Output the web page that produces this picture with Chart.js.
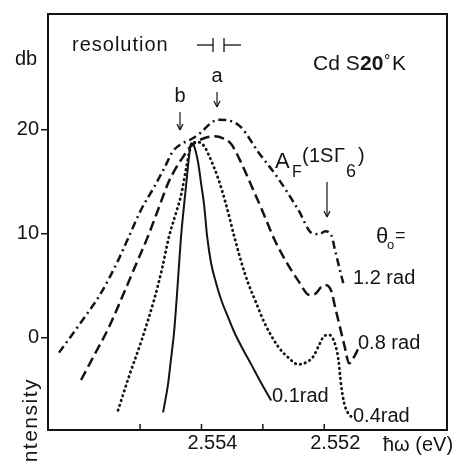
<!DOCTYPE html>
<html>
<head>
<meta charset="utf-8">
<script src="https://cdn.jsdelivr.net/npm/chart.js@4.4.1/dist/chart.umd.min.js"></script>
<style>
  html, body { margin: 0; padding: 0; background: #fff; }
  #wrap { width: 462px; height: 465px; }
</style>
</head>
<body>
<div id="wrap"><canvas id="spectrum" width="462" height="465"></canvas></div>
<script>
// photon energy (eV) and intensity (dB), theta0 = 1.2 rad
const energy12 = [2.556321, 2.555962, 2.555636, 2.555359, 2.555179, 2.554984, 2.554772, 2.554609,
  2.554462, 2.554332, 2.554169, 2.554006, 2.553875, 2.553728, 2.553549, 2.553353, 2.553076,
  2.552750, 2.552424, 2.552196, 2.552082, 2.551984, 2.551886, 2.551821, 2.551755, 2.551690];
const db12 = [-1.46, 1.46, 4.28, 7.39, 9.74, 12.28, 14.45, 16.24, 17.93, 18.59, 19.06, 19.72,
  20.47, 20.94, 20.85, 20.19, 17.84, 15.29, 12.28, 10.02, 9.93, 10.21, 9.84, 8.33, 6.73, 5.22];

// theta0 = 0.8 rad
const energy08 = [2.555962, 2.555750, 2.555522, 2.555359, 2.555196, 2.555033, 2.554870, 2.554707,
  2.554544, 2.554413, 2.554299, 2.554201, 2.554087, 2.553957, 2.553794, 2.553647, 2.553516,
  2.553353, 2.553190, 2.552995, 2.552815, 2.552620, 2.552408, 2.552245, 2.552147, 2.552049,
  2.551984, 2.551886, 2.551821, 2.551755, 2.551674, 2.551592, 2.551511, 2.551446];
const db08 = [-4.09, -1.74, 0.80, 2.96, 5.22, 7.48, 9.74, 12.28, 14.82, 16.33, 17.36, 18.21,
  18.78, 19.15, 19.34, 19.15, 18.59, 16.80, 14.64, 12.00, 9.46, 7.29, 5.32, 4.09, 4.19, 4.85,
  5.04, 4.47, 2.87, 1.27, -0.71, -2.49, -1.84, -1.08];

// theta0 = 0.4 rad
const energy04 = [2.555359, 2.555179, 2.554984, 2.554772, 2.554641, 2.554527, 2.554413, 2.554332,
  2.554250, 2.554201, 2.554152, 2.554054, 2.553957, 2.553875, 2.553728, 2.553598, 2.553467,
  2.553353, 2.553239, 2.553109, 2.552978, 2.552750, 2.552587, 2.552424, 2.552293, 2.552179,
  2.552082, 2.552000, 2.551918, 2.551837, 2.551772, 2.551723, 2.551674, 2.551609, 2.551527];
const db04 = [-7.01, -3.72, -0.42, 3.62, 6.64, 9.74, 12.00, 13.69, 16.24, 17.74, 18.68, 18.78,
  18.40, 17.46, 15.29, 12.75, 9.74, 7.29, 5.22, 3.34, 1.46, -0.89, -1.93, -2.59, -2.40, -1.84,
  -0.71, 0.14, 0.24, -0.42, -2.02, -4.66, -6.35, -7.29, -7.76];

// theta0 = 0.1 rad
const energy01 = [2.554625, 2.554544, 2.554495, 2.554446, 2.554397, 2.554364, 2.554332, 2.554283,
  2.554234, 2.554201, 2.554169, 2.554120, 2.554054, 2.554006, 2.553957, 2.553908, 2.553842,
  2.553761, 2.553679, 2.553565, 2.553467, 2.553321, 2.553190, 2.553027, 2.552864];
const db01 = [-7.20, -4.47, -2.02, 0.52, 4.28, 7.11, 9.74, 12.75, 15.58, 17.46, 18.68, 18.40,
  16.80, 14.82, 12.75, 9.74, 7.11, 5.22, 3.62, 1.93, 0.52, -1.18, -2.59, -4.38, -6.07];

const seriesNames = ["1.2 rad", "0.8 rad", "0.4rad", "0.1rad"];
const yTickValues = [0, 10, 20];
const xTickValues = [2.552, 2.553, 2.554, 2.555];
const xTickLabels = ["2.552", "", "2.554", ""];

const ink = "#141414";
const fontFamily = "'Liberation Sans', Arial, sans-serif";

function points(xs, ys) {
  return xs.map((x, i) => ({ x: x, y: ys[i] }));
}

function series(name, xs, ys, dash, width, cap) {
  return {
    label: name,
    data: points(xs, ys),
    borderColor: ink,
    borderWidth: width,
    borderDash: dash,
    borderCapStyle: cap || "butt",
    pointRadius: 0,
    fill: false,
    cubicInterpolationMode: "monotone"
  };
}

// texts, arrows and frame drawn on top of the plot
const annotations = {
  id: "annotations",
  afterDraw(chart) {
    const ctx = chart.ctx;
    const area = chart.chartArea;
    const xScale = chart.scales.x;

    function text(str, x, y, size, align, weight) {
      ctx.font = (weight || "normal") + " " + size + "px " + fontFamily;
      ctx.textAlign = align || "left";
      ctx.textBaseline = "alphabetic";
      ctx.fillText(str, x, y);
    }
    function line(x1, y1, x2, y2) {
      ctx.beginPath();
      ctx.moveTo(x1, y1);
      ctx.lineTo(x2, y2);
      ctx.stroke();
    }
    function arrow(x, y1, y2) {
      line(x, y1, x, y2);
      line(x - 3, y2 - 6, x, y2);
      line(x + 3, y2 - 6, x, y2);
    }

    ctx.save();
    ctx.fillStyle = ink;
    ctx.strokeStyle = ink;

    // frame
    ctx.lineWidth = 2;
    ctx.strokeRect(area.left, area.top, area.right - area.left, area.bottom - area.top);

    // inward ticks on the energy axis
    ctx.lineWidth = 1.5;
    xScale.ticks.forEach(t => {
      const px = xScale.getPixelForValue(t.value);
      line(px, area.bottom, px, area.bottom - 6);
    });

    // axis names
    text("db", 26, 65, 20, "center");
    text("\u0127\u03c9 (eV)", 383, 451, 20);
    ctx.save();
    ctx.translate(37, 378);
    ctx.rotate(-Math.PI / 2);
    ctx.letterSpacing = "1.5px";
    text("Intensity", 0, 0, 21, "right");
    ctx.restore();

    // resolution mark
    ctx.save();
    ctx.letterSpacing = "1px";
    text("resolution", 72, 51, 20);
    ctx.restore();
    ctx.lineWidth = 1.3;
    line(197, 45, 213, 45);
    line(213, 38, 213, 52);
    line(224, 38, 224, 52);
    line(224, 45, 241, 45);

    // sample
    text("Cd S", 313, 70, 21);
    text("20", 360, 70, 21, "left", "bold");
    text("\u00b0", 384, 66, 16);
    text("K", 392, 70, 21);

    // peak markers
    ctx.lineWidth = 1.2;
    text("a", 217, 82, 20, "center");
    arrow(217, 92, 107);
    text("b", 180, 102, 20, "center");
    arrow(180, 112, 130);

    // exciton line
    text("A", 275, 168, 22);
    text("F", 292, 177, 16);
    text("(", 302, 162, 20);
    text("1", 309, 162, 20);
    text("S", 320, 162, 20);
    text("\u0393", 334, 162, 20);
    text("6", 346, 177, 18);
    text(")", 358, 162, 20);
    arrow(327, 182, 217);

    // theta0 =
    text("\u03b8", 376, 243, 22);
    text("o", 387, 249, 13);
    text("=", 395, 241, 18);

    // curve labels
    text(seriesNames[0], 353, 284, 20);
    text(seriesNames[1], 358, 349, 20);
    text(seriesNames[2], 353, 422, 20);
    text(seriesNames[3], 272, 402, 20);

    ctx.restore();
  }
};

new Chart(document.getElementById("spectrum"), {
  type: "line",
  data: {
    datasets: [
      series(seriesNames[0], energy12, db12, [8, 4, 2, 4], 2.5),
      series(seriesNames[1], energy08, db08, [10, 5], 2.5),
      series(seriesNames[2], energy04, db04, [0.5, 4.5], 2.8, "round"),
      series(seriesNames[3], energy01, db01, [], 2)
    ]
  },
  options: {
    responsive: false,
    animation: false,
    layout: { padding: { top: 5, right: 15, left: 0, bottom: 0 } },
    plugins: {
      legend: { display: false },
      tooltip: { enabled: false }
    },
    scales: {
      x: {
        type: "linear",
        reverse: true,
        min: 2.5500,
        max: 2.5565,
        afterFit: s => { s.height = 35; },
        afterBuildTicks: s => { s.ticks = xTickValues.map(v => ({ value: v })); },
        grid: { display: false, drawTicks: false },
        border: { display: true, color: ink, width: 2 },
        ticks: {
          autoSkip: false,
          maxRotation: 0,
          padding: 1,
          labelOffset: 11,
          color: ink,
          font: { family: fontFamily, size: 20 },
          callback: (value, index) => xTickLabels[index]
        }
      },
      y: {
        type: "linear",
        min: -8.9,
        max: 31.1,
        afterFit: s => { s.width = 48; },
        afterBuildTicks: s => { s.ticks = yTickValues.map(v => ({ value: v })); },
        grid: { drawOnChartArea: false, drawTicks: true, tickLength: 7, color: ink, lineWidth: 1.5 },
        border: { display: true, color: ink, width: 2 },
        ticks: {
          padding: 2,
          color: ink,
          font: { family: fontFamily, size: 20 }
        }
      }
    }
  },
  plugins: [annotations]
});
</script>
</body>
</html>
